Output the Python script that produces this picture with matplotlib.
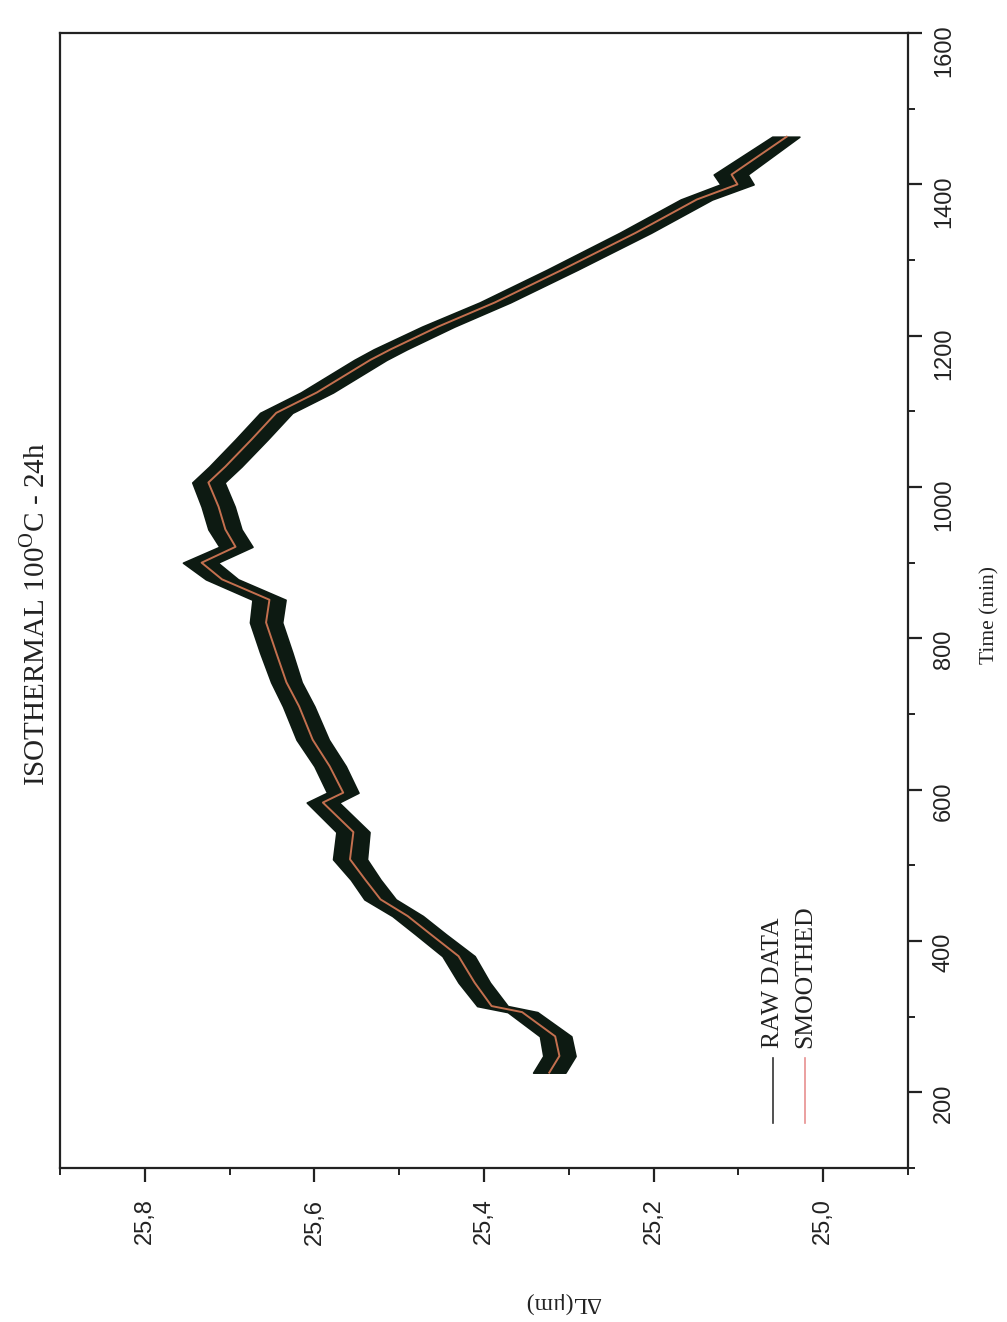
import numpy as np
import matplotlib.pyplot as plt
from matplotlib.ticker import MultipleLocator, FuncFormatter

# valeurs (graphe tourne de 90 degres)
time_min = [226, 248, 274, 306, 314, 345, 380, 409, 433, 455, 481, 508, 544, 583,
            596, 631, 666, 710, 742, 781, 821, 851, 878, 900, 921, 944, 974, 1006,
            1027, 1063, 1098, 1125, 1168, 1182, 1212, 1244, 1287, 1336, 1380, 1400,
            1413, 1463]
smoothed = [25.323, 25.311, 25.316, 25.355, 25.391, 25.411, 25.430, 25.463, 25.490,
            25.522, 25.540, 25.558, 25.554, 25.590, 25.566, 25.582, 25.602, 25.618,
            25.633, 25.645, 25.657, 25.653, 25.709, 25.733, 25.693, 25.705, 25.713,
            25.725, 25.705, 25.674, 25.645, 25.597, 25.534, 25.510, 25.454, 25.387,
            25.308, 25.221, 25.149, 25.101, 25.108, 25.043]
# enveloppe des donnees brutes (bruit)
raw_hi = [25.342, 25.330, 25.334, 25.372, 25.408, 25.430, 25.449, 25.481, 25.508,
          25.541, 25.557, 25.578, 25.574, 25.609, 25.585, 25.600, 25.621, 25.637,
          25.651, 25.664, 25.676, 25.673, 25.728, 25.755, 25.712, 25.725, 25.733,
          25.744, 25.724, 25.693, 25.664, 25.616, 25.553, 25.530, 25.473, 25.405,
          25.326, 25.240, 25.168, 25.121, 25.129, 25.060]
raw_lo = [25.304, 25.292, 25.297, 25.337, 25.372, 25.393, 25.411, 25.445, 25.472,
          25.504, 25.522, 25.538, 25.535, 25.571, 25.548, 25.563, 25.583, 25.600,
          25.615, 25.626, 25.638, 25.634, 25.690, 25.714, 25.673, 25.686, 25.694,
          25.706, 25.686, 25.655, 25.626, 25.578, 25.515, 25.491, 25.435, 25.369,
          25.290, 25.203, 25.131, 25.082, 25.089, 25.028]

plt.rcParams['mathtext.fontset'] = 'custom'
plt.rcParams['mathtext.rm'] = 'Liberation Serif'

fig = plt.figure(figsize=(10.07, 13.22), dpi=100)
ax = fig.add_axes([0.0596, 0.1165, 0.842, 0.8585])

ax.fill_betweenx(time_min, raw_lo, raw_hi, color='#0d1a12', lw=1.2)
ax.plot(smoothed, time_min, color='#c4704f', lw=1.4)

ax.set_xlim(25.9, 24.9)
ax.set_ylim(100, 1600)
ax.yaxis.tick_right()
ax.xaxis.set_major_locator(MultipleLocator(0.2))
ax.xaxis.set_minor_locator(MultipleLocator(0.1))
ax.yaxis.set_major_locator(MultipleLocator(200))
ax.yaxis.set_minor_locator(MultipleLocator(100))
ax.xaxis.set_major_formatter(FuncFormatter(lambda v, p: f"{v:.1f}".replace('.', ',')))
ax.tick_params(which='major', direction='out', length=10, width=1.6, color='#222222')
ax.tick_params(which='minor', direction='out', length=5, width=1.4, color='#222222')
ax.tick_params(axis='both', which='major', labelsize=17, labelcolor='#222222')
ax.tick_params(axis='x', which='major', pad=12)
ax.tick_params(axis='y', which='major', pad=8)
for lab in ax.get_xticklabels() + ax.get_yticklabels():
    lab.set_rotation(90)
    lab.set_fontfamily('Liberation Sans')
for s in ax.spines.values():
    s.set_linewidth(1.6)
    s.set_color('#222222')

# legende (tournee)
ax.plot([0.841, 0.841], [0.040, 0.097], transform=ax.transAxes, color='#333333', lw=1.2)
ax.plot([0.879, 0.879], [0.040, 0.097], transform=ax.transAxes, color='#e89090', lw=1.2)
ax.text(0.841, 0.106, 'RAW DATA', transform=ax.transAxes, rotation=90, ha='center',
        va='bottom', fontsize=18.5, family='Liberation Serif', color='#222222')
ax.text(0.879, 0.106, 'SMOOTHED', transform=ax.transAxes, rotation=90, ha='center',
        va='bottom', fontsize=18.5, family='Liberation Serif', color='#222222')

fig.text(0.035, 0.535, r'ISOTHERMAL 100$^{\mathrm{O}}$C - 24h', rotation=90, ha='center',
         va='center', fontsize=21, family='Liberation Serif', color='#222222')
fig.text(0.983, 0.535, 'Time (min)', rotation=90, ha='center', va='center',
         fontsize=15.5, family='Liberation Serif', color='#222222')
fig.text(0.559, 0.015, 'ΔL(μm)', rotation=180, ha='center', va='center',
         fontsize=17, family='Liberation Serif', color='#222222')

fig.savefig('out.png', dpi=100)
